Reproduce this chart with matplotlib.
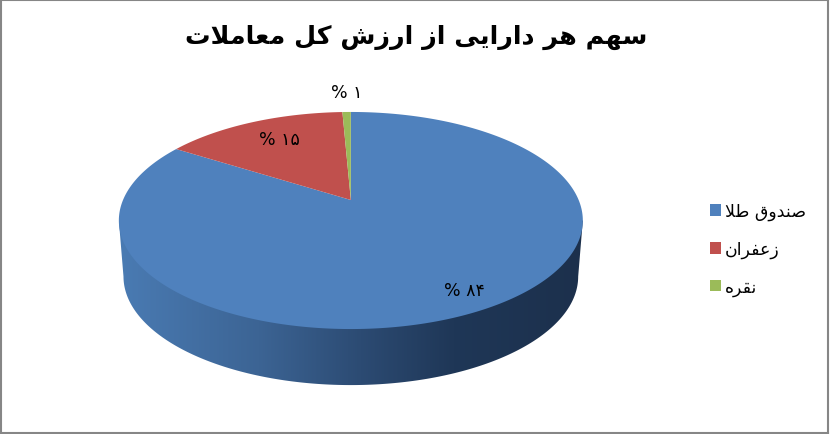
# -*- coding:utf-8 -*-
'''
سهم هر دارایی - pie with depth, perspective drawn by hand
'''
import matplotlib
matplotlib.use('Agg')
import matplotlib.pyplot as plt
from matplotlib.colors import LinearSegmentedColormap
from matplotlib.patches import Patch, Polygon
import numpy as np

title = 'سهم هر دارایی از ارزش کل معاملات'
categories = ['صندوق طلا', 'زعفران', 'نقره']
shares = [84.0, 15.3, 0.7]
labels = [84, 15, 1]
colors = ['#4F81BD', '#C0504D', '#9BBB59']

# isolated, final, initial, medial
FORMS = {
    'س': (0xFEB1, 0xFEB2, 0xFEB3, 0xFEB4), 'ه': (0xFEE9, 0xFEEA, 0xFEEB, 0xFEEC),
    'م': (0xFEE1, 0xFEE2, 0xFEE3, 0xFEE4), 'ی': (0xFBFC, 0xFBFD, 0xFBFE, 0xFBFF),
    'ش': (0xFEB5, 0xFEB6, 0xFEB7, 0xFEB8), 'ک': (0xFB8E, 0xFB8F, 0xFB90, 0xFB91),
    'ل': (0xFEDD, 0xFEDE, 0xFEDF, 0xFEE0), 'ع': (0xFEC9, 0xFECA, 0xFECB, 0xFECC),
    'ت': (0xFE95, 0xFE96, 0xFE97, 0xFE98), 'ص': (0xFEB9, 0xFEBA, 0xFEBB, 0xFEBC),
    'ن': (0xFEE5, 0xFEE6, 0xFEE7, 0xFEE8), 'ق': (0xFED5, 0xFED6, 0xFED7, 0xFED8),
    'ط': (0xFEC1, 0xFEC2, 0xFEC3, 0xFEC4), 'ف': (0xFED1, 0xFED2, 0xFED3, 0xFED4),
    'ر': (0xFEAD, 0xFEAE), 'د': (0xFEA9, 0xFEAA), 'ا': (0xFE8D, 0xFE8E),
    'ز': (0xFEAF, 0xFEB0), 'و': (0xFEED, 0xFEEE),
}


# matplotlib does not join or reverse arabic, so pick the joined forms here
def shape(text):
    out = []
    for word in text.split(' '):
        word = word.replace('لا', '\uFEFB')
        glyphs = []
        for i, c in enumerate(word):
            prev_joins = i > 0 and len(FORMS.get(word[i - 1], ())) == 4
            if c == '\uFEFB':
                glyphs.append('\uFEFC' if prev_joins else c)
                continue
            f = FORMS[c]
            next_joins = i < len(word) - 1 and len(f) == 4
            if prev_joins and next_joins:
                glyphs.append(chr(f[3]))
            elif next_joins:
                glyphs.append(chr(f[2]))
            elif prev_joins:
                glyphs.append(chr(f[1]))
            else:
                glyphs.append(chr(f[0]))
        out.append(''.join(reversed(glyphs)))
    return ' '.join(reversed(out))


def persian(n):
    return ''.join(chr(0x06F0 + int(d)) for d in str(n))


# the circle seen in perspective, px coordinates
CX, CY = 351, 201
PERSP, SX, SY = 0.189, 227.8, 104.6
# angles where the projected circle is widest
RIGHT_EDGE, LEFT_EDGE = 100.9, 259.1


def project(deg, scale=1.0, drop=0.0):
    # deg is clockwise from the top of the pie
    t = np.radians(deg)
    px, py = np.sin(t), np.cos(t)
    w = 1 + PERSP * py
    return CX + scale * SX * px / w, CY + drop - SY * py / w


fig = plt.figure(figsize=(8.3, 4.35), dpi=100)
ax = fig.add_axes([0.001, 0.002, 0.997, 0.996])
ax.set_xticks(())
ax.set_yticks(())
for s in ax.spines.values():
    s.set_color('#868686')
    s.set_linewidth(1.5)

# side wall with the dark gradient
side_cmap = LinearSegmentedColormap.from_list(
    'side', [(0, '#4A7BB3'), (0.3, '#3C6494'), (0.52, '#2C4B73'), (0.72, '#1F3757'), (1, '#1C304C')])
bx, by = project(np.linspace(LEFT_EDGE, RIGHT_EDGE, 200), 0.98, 56)
tx, ty = project(np.array([LEFT_EDGE, RIGHT_EDGE]))
side = np.column_stack([np.r_[tx[0], bx, tx[1]], np.r_[ty[0], by, ty[1]]])
poly = Polygon(side, closed=True, facecolor='none', edgecolor='none')
ax.add_patch(poly)
im = ax.imshow(np.linspace(0, 1, 256).reshape(1, -1), cmap=side_cmap, aspect='auto',
               extent=(119, 583, 400, 200), zorder=1)
im.set_clip_path(poly)
ax.set_xlim(1, 828.5)
ax.set_ylim(434, 1)

# top face
start = 0.0
for value, color in zip(shares, colors):
    end = start + value * 3.6
    a = np.linspace(start, end, max(int(value * 6), 3))
    x, y = project(a)
    ax.fill(np.r_[CX, x], np.r_[CY, y], facecolor=color, edgecolor='none', zorder=2)
    start = end

label_pos = [(465, 291), (280, 140), (347, 93)]
for value, (x, y) in zip(labels, label_pos):
    ax.text(x, y, '% ' + persian(value), ha='center', va='center', fontsize=12.5,
            color='black', zorder=3)

ax.text(416, 38, shape(title), ha='center', va='center', fontsize=18.3, fontweight='bold',
        color='black')

handles = [Patch(facecolor=c, edgecolor='none') for c in colors]
ax.legend(handles, [shape(c) for c in categories], loc='center left',
          bbox_to_anchor=(710 / 830, 1 - 250 / 435, 0, 0), bbox_transform=fig.transFigure,
          frameon=False, fontsize=12.5, handlelength=0.65, handleheight=0.65,
          handletextpad=0.2, labelspacing=1.12, borderpad=0, borderaxespad=0)

fig.savefig('out.png', dpi=100)
